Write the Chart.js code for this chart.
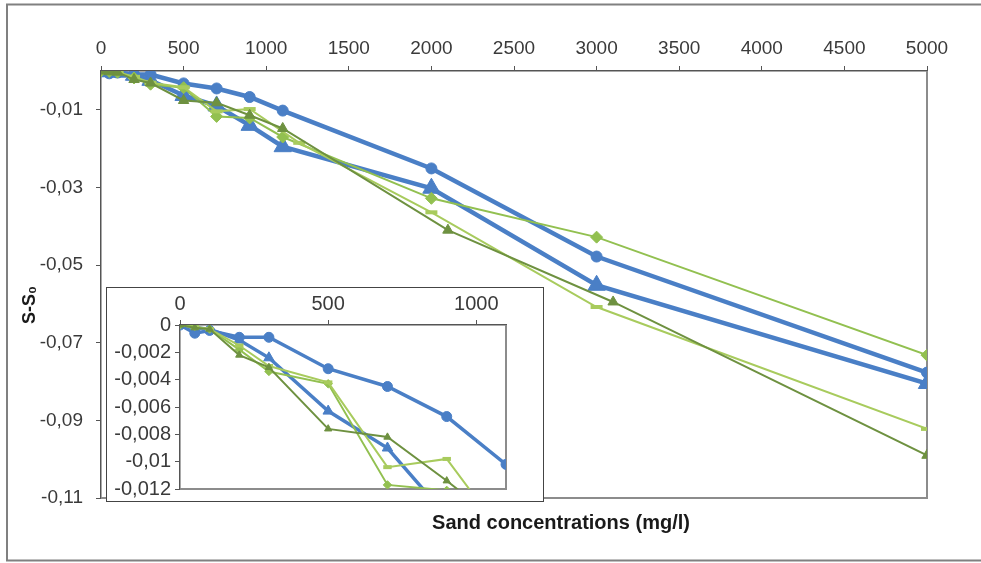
<!DOCTYPE html>
<html>
<head>
<meta charset="utf-8">
<script src="https://cdn.jsdelivr.net/npm/chart.js@4.4.1/dist/chart.umd.min.js"></script>
<style>
  body { margin: 0; background: #fff; }
  #wrap { position: relative; width: 981px; height: 563px; overflow: hidden; }
  #inset { position: absolute; left: 106px; top: 287px; width: 436px; height: 213px;
           border: 1px solid #444; background: #fff; }
  canvas { display: block; }
</style>
</head>
<body>
<div id="wrap">
  <canvas id="mainChart" width="981" height="563"></canvas>
  <div id="inset"><canvas id="insetChart" width="436" height="213"></canvas></div>
</div>
<script>
// sand concentration (mg/l)
const conc = [0, 50, 100, 200, 300, 500, 700, 900, 1100, 2000, 3000, 5000];
const concDash = [0, 50, 100, 200, 300, 500, 700, 900, 1200, 2000, 3000, 5000];
const concDark = [0, 50, 100, 200, 300, 500, 700, 900, 1100, 2100, 3100, 5000];

// S - S0 for each run
const blueCircle = [0, -0.0006, -0.0004, -0.0009, -0.0009, -0.0032, -0.0045, -0.0067, -0.0102, -0.0251, -0.0478, -0.0777];
const blueTriangle = [0, -0.0002, -0.0003, -0.0011, -0.0024, -0.0063, -0.0090, -0.0140, -0.0195, -0.0302, -0.0552, -0.0805];
const greenDiamond = [0, -0.0001, -0.0003, -0.0018, -0.0034, -0.0043, -0.0117, -0.0121, -0.0170, -0.0328, -0.0428, -0.0732];
const greenDash = [0, -0.0002, -0.0003, -0.0015, -0.0030, -0.0042, -0.0104, -0.0098, -0.0185, -0.0364, -0.0608, -0.0922];
const darkTriangle = [0, -0.0002, -0.0003, -0.0022, -0.0031, -0.0076, -0.0082, -0.0114, -0.0148, -0.0410, -0.0595, -0.0990];

const mainXTicks = [0, 500, 1000, 1500, 2000, 2500, 3000, 3500, 4000, 4500, 5000];
const mainYTicks = [-0.01, -0.03, -0.05, -0.07, -0.09, -0.11];
const insetXTicks = [0, 500, 1000];
const insetYTicks = [0, -0.002, -0.004, -0.006, -0.008, -0.01, -0.012];

const BLUE = '#4a7fc6';

function pts(xs, ys) {
    return xs.map((x, i) => ({ x: x, y: ys[i] }));
}

function comma(v) {
    return String(Number(v.toFixed(4))).replace('.', ',');
}

function datasets(small) {
    const k = small ? 0.7 : 1;
    return [
        { data: pts(concDark, darkTriangle), color: '#6e9140', w: 2, style: 'triangle', r: 6 * k, pbw: 1 },
        { data: pts(concDash, greenDash), color: '#a8cb5d', w: 2, style: 'line', r: 6 * k, pbw: 4 },
        { data: pts(conc, greenDiamond), color: '#92c050', w: 2, style: 'rectRot', r: 6 * k, pbw: 1 },
        { data: pts(conc, blueTriangle), color: BLUE, w: small ? 3.5 : 4.5, style: 'triangle', r: small ? 6 : 10, pbw: 1 },
        { data: pts(conc, blueCircle), color: BLUE, w: small ? 3.5 : 4.5, style: 'circle', r: small ? 5 : 5.5, pbw: 1 }
    ].map(s => ({
        data: s.data,
        showLine: true,
        tension: 0,
        borderColor: s.color,
        backgroundColor: s.color,
        borderWidth: s.w,
        pointStyle: s.style,
        pointRadius: s.r,
        pointBackgroundColor: s.color,
        pointBorderColor: s.color,
        pointBorderWidth: s.pbw
    }));
}

// grey frame on the right and bottom of the plot area
const plotFrame = {
    id: 'plotFrame',
    beforeDatasetsDraw(chart) {
        const a = chart.chartArea, c = chart.ctx;
        c.save();
        c.strokeStyle = '#8c8c8c';
        c.lineWidth = 2;
        c.beginPath();
        c.moveTo(a.left, a.bottom);
        c.lineTo(a.right, a.bottom);
        c.lineTo(a.right, a.top);
        c.stroke();
        c.restore();
    }
};

// axis titles and outer border of the figure
const decorations = {
    id: 'decorations',
    afterDraw(chart) {
        const c = chart.ctx;
        c.save();
        c.strokeStyle = '#808080';
        c.lineWidth = 2;
        c.beginPath();
        c.moveTo(981, 4.5);
        c.lineTo(7, 4.5);
        c.lineTo(7, 560.5);
        c.lineTo(981, 560.5);
        c.stroke();

        c.fillStyle = '#1a1a1a';
        c.font = 'bold 20px "Liberation Sans", Arial, sans-serif';
        c.textAlign = 'center';
        c.textBaseline = 'middle';
        c.fillText('Sand concentrations (mg/l)', 561, 523);

        c.translate(30, 305);
        c.rotate(-Math.PI / 2);
        c.font = 'bold 18px "Liberation Sans", Arial, sans-serif';
        c.fillText('S-S₀', 0, 0);
        c.restore();
    }
};

function axes(o) {
    return {
        x: {
            type: 'linear',
            position: 'top',
            min: o.xMin, max: o.xMax,
            afterBuildTicks: s => { s.ticks = o.xTicks.map(v => ({ value: v })); },
            afterFit: s => { s.height = o.xHeight; s.paddingLeft = 0; s.paddingRight = 0; },
            ticks: {
                autoSkip: false, maxRotation: 0, padding: o.xPad,
                color: '#3a3a3a',
                font: { family: '"Liberation Sans", Arial, sans-serif', size: o.font },
                callback: v => comma(v)
            },
            grid: { drawOnChartArea: false, drawTicks: true, tickLength: 5, color: '#555' },
            border: { color: '#555', width: 1.5 }
        },
        y: {
            type: 'linear',
            min: o.yMin, max: 0,
            afterBuildTicks: s => { s.ticks = o.yTicks.map(v => ({ value: v })); },
            afterFit: s => { s.width = o.yWidth; s.paddingTop = 0; s.paddingBottom = 0; },
            ticks: {
                autoSkip: false, padding: o.yPad,
                color: '#3a3a3a',
                font: { family: '"Liberation Sans", Arial, sans-serif', size: o.font },
                callback: v => comma(v)
            },
            grid: { drawOnChartArea: false, drawTicks: true, tickLength: 5, color: '#555' },
            border: { color: '#555', width: 1.5 }
        }
    };
}

new Chart(document.getElementById('mainChart'), {
    type: 'scatter',
    data: { datasets: datasets(false) },
    options: {
        responsive: false,
        animation: false,
        layout: { padding: { left: 0, top: 0, right: 54, bottom: 65 } },
        scales: axes({
            xMin: 0, xMax: 5000, xTicks: mainXTicks, xHeight: 71, xPad: 6,
            yMin: -0.11, yTicks: mainYTicks, yWidth: 101, yPad: 13, font: 19
        }),
        plugins: { legend: { display: false }, tooltip: { enabled: false } }
    },
    plugins: [plotFrame, decorations]
});

new Chart(document.getElementById('insetChart'), {
    type: 'scatter',
    data: { datasets: datasets(true) },
    options: {
        responsive: false,
        animation: false,
        layout: { padding: { left: 0, top: 0, right: 37, bottom: 12 } },
        scales: axes({
            xMin: 0, xMax: 1100, xTicks: insetXTicks, xHeight: 37, xPad: 4,
            yMin: -0.012, yTicks: insetYTicks, yWidth: 73, yPad: 4, font: 20
        }),
        plugins: { legend: { display: false }, tooltip: { enabled: false } }
    },
    plugins: [plotFrame]
});
</script>
</body>
</html>
